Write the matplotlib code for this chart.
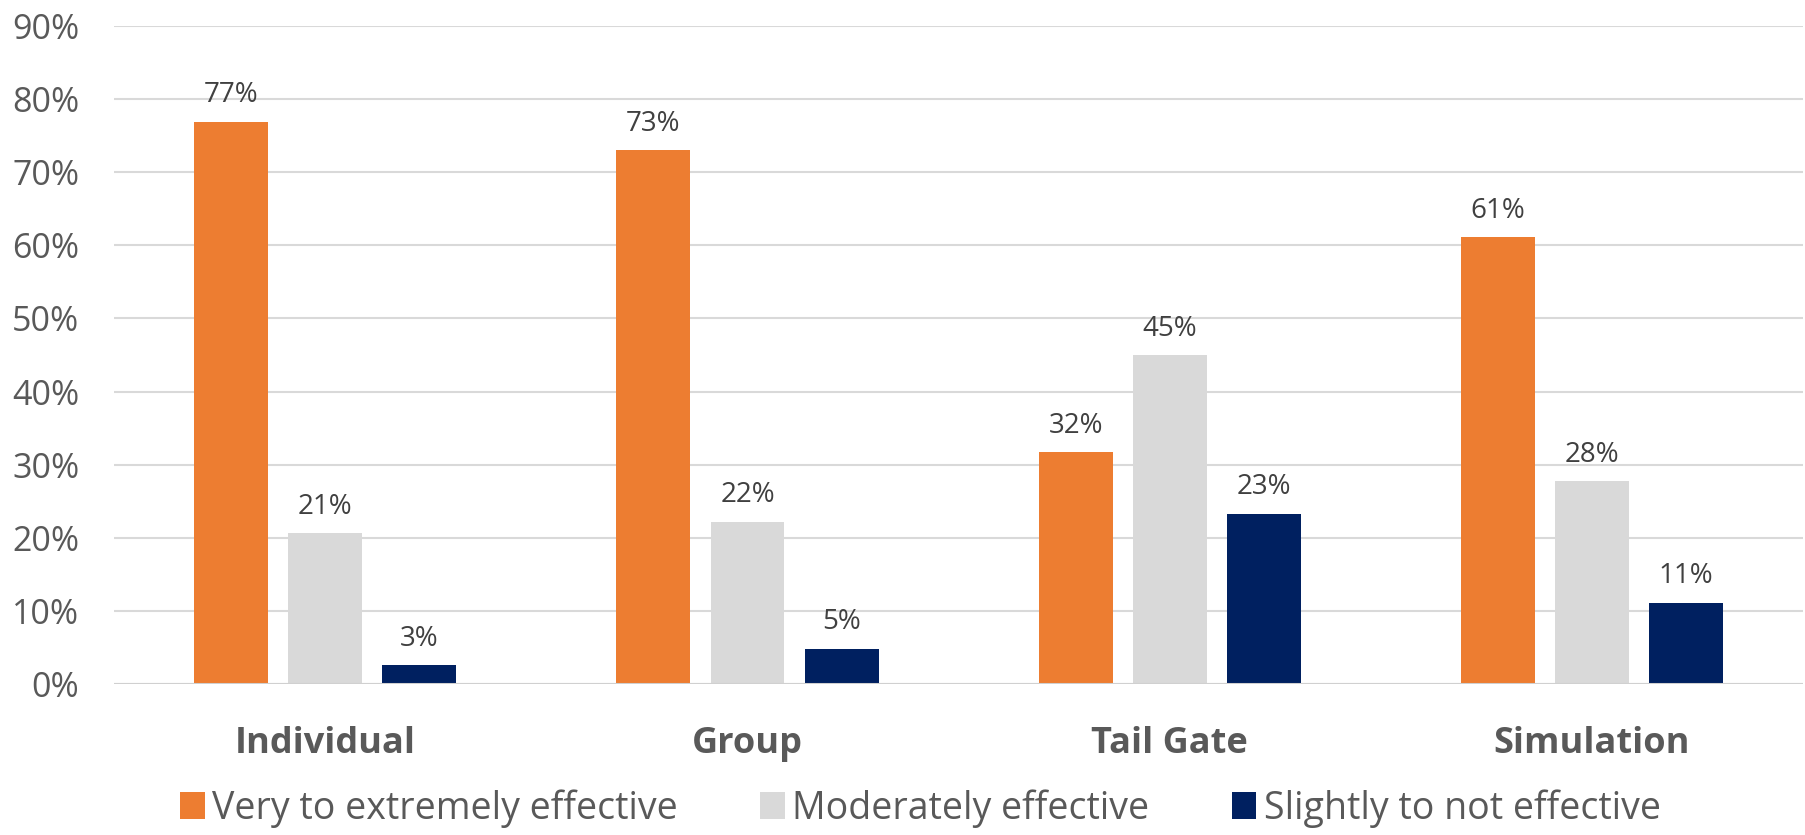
import matplotlib
matplotlib.use("Agg")
import matplotlib.pyplot as plt
from matplotlib.patches import Patch
import numpy as np

plt.rcParams['font.family'] = ['Open Sans', 'DejaVu Sans']

# survey results, percent of respondents
categories = ["Individual", "Group", "Tail Gate", "Simulation"]
series_names = ["Very to extremely effective", "Moderately effective", "Slightly to not effective"]
very_effective = [76.9, 73.0, 31.7, 61.1]
moderately_effective = [20.6, 22.2, 45.0, 27.7]
not_effective = [2.6, 4.8, 23.3, 11.1]
y_ticks = [0, 10, 20, 30, 40, 50, 60, 70, 80, 90]

colors = ["#ED7D31", "#D9D9D9", "#002060"]
text_grey = "#595959"

fig = plt.figure(figsize=(18.05, 8.35), dpi=100)
ax = fig.add_axes([0.0632, 0.1808, 0.9358, 0.7881])

x = np.arange(len(categories))
width = 0.175
step = 0.223
for i, (vals, col) in enumerate(zip([very_effective, moderately_effective, not_effective], colors)):
    pos = x + (i - 1) * step
    ax.bar(pos, vals, width=width, color=col, zorder=3)
    for px, v in zip(pos, vals):
        ax.annotate(f"{v:.0f}%", (px, v), xytext=(0, 14), textcoords="offset points",
                    ha="center", va="baseline", fontsize=20, color="#404040")

ax.set_xlim(-0.5, 3.5)
ax.set_ylim(0, 90)
ax.set_yticks(y_ticks)
ax.set_yticklabels([f"{t}%" for t in y_ticks])
ax.grid(axis="y", color="#D9D9D9", linewidth=1.5, zorder=0)
ax.axhline(0, color="#D0D0D0", linewidth=2.2, zorder=4)
for s in ax.spines.values():
    s.set_visible(False)

ax.tick_params(axis="y", length=0, pad=25, labelsize=24.5, labelcolor=text_grey)
ax.set_xticks(x)
ax.set_xticklabels(categories, fontsize=26, fontweight="bold", color=text_grey)
ax.tick_params(axis="x", length=0, pad=30)

handles = [Patch(facecolor=c, edgecolor="none") for c in colors]
fig.legend(handles, series_names, loc="center", bbox_to_anchor=(0.51, 0.032), ncol=3,
           frameon=False, fontsize=27, labelcolor=text_grey, handlelength=0.65,
           handleheight=0.7, handletextpad=0.2, columnspacing=2.2)

fig.savefig("out.png", dpi=100)
